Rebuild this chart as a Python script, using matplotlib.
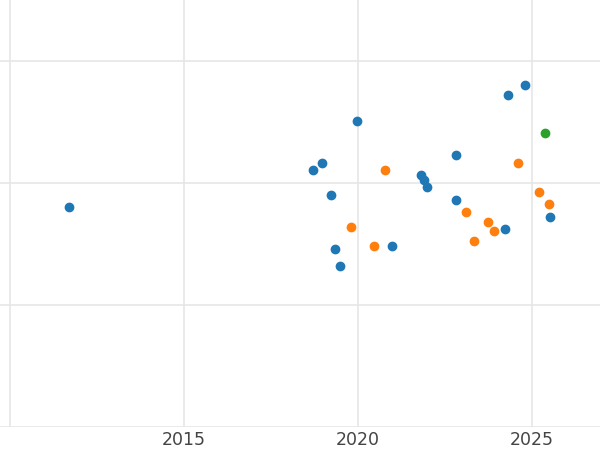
import matplotlib
matplotlib.use("Agg")
import matplotlib.pyplot as plt

blue_x = [2011.69, 2018.71, 2018.97, 2019.22, 2019.97, 2019.34, 2019.48, 2020.98, 2021.81, 2021.90, 2021.98, 2022.82, 2022.82, 2024.22, 2024.31, 2024.80, 2025.52]
blue_y = [-0.197, 0.107, 0.164, -0.098, 0.508, -0.541, -0.680, -0.516, 0.066, 0.025, -0.033, 0.230, -0.139, -0.377, 0.721, 0.803, -0.279]
orange_x = [2019.80, 2020.46, 2020.78, 2023.10, 2023.33, 2023.74, 2023.91, 2024.60, 2025.20, 2025.49]
orange_y = [-0.361, -0.516, 0.107, -0.238, -0.475, -0.320, -0.393, 0.164, -0.074, -0.172]
green_x = [2025.37]
green_y = [0.410]
xticks = [2010, 2015, 2020, 2025]
xticklabels = ["", "2015", "2020", "2025"]

fig = plt.figure(figsize=(6, 4.5), dpi=100)
ax = fig.add_axes([0, 0.051, 1, 0.949])
ax.scatter(blue_x, blue_y, s=36, color="#1f77b4", zorder=3)
ax.scatter(orange_x, orange_y, s=36, color="#ff7f0e", zorder=3)
ax.scatter(green_x, green_y, s=36, color="#2ca02c", zorder=3)
ax.set_xlim(2009.71, 2026.95)
ax.set_ylim(-2, 1.5)
ax.set_xticks(xticks)
ax.set_xticklabels(xticklabels)
ax.set_yticks([-2, -1, 0, 1])
ax.set_yticklabels([])
ax.grid(True, color="#e6e6e6", linewidth=1.2)
ax.set_axisbelow(True)
for s in ax.spines.values():
    s.set_visible(False)
ax.tick_params(length=0, labelsize=12.5, labelcolor="#444444", pad=3)
fig.savefig("out.png")
